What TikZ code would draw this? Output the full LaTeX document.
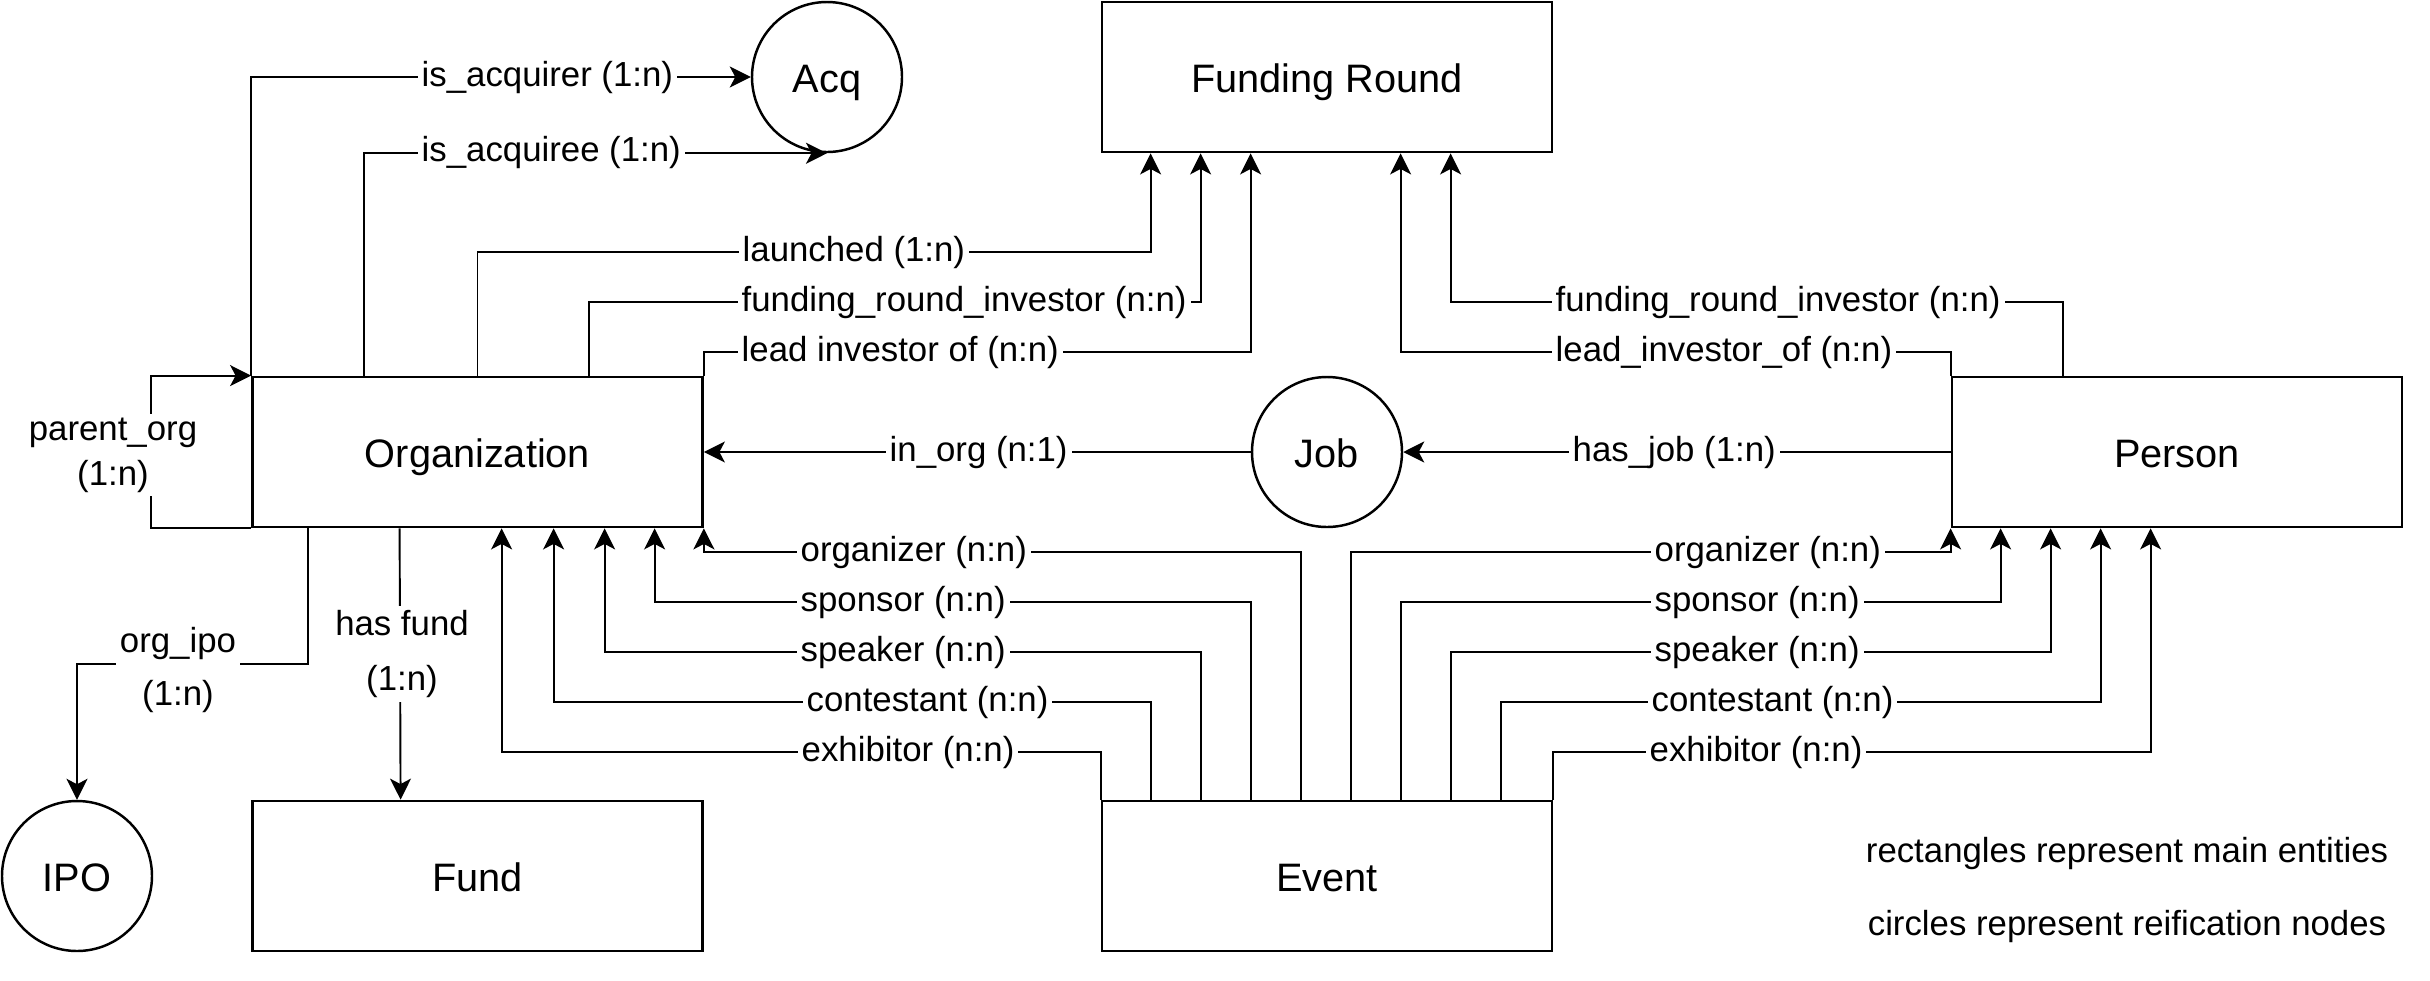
\documentclass[tikz,border=0pt]{standalone}
\usepackage{fontspec}
\setmainfont{Liberation Sans}
\usetikzlibrary{arrows.meta,calc}
\begin{document}
\begin{tikzpicture}[x=0.1mm,y=-0.1mm,
  entity/.style={draw,line width=0.8pt,minimum width=45mm,minimum height=15mm,inner sep=0pt,text height=0.86em,text depth=0em,font=\fontsize{11.3pt}{13.5pt}\selectfont},
  reif/.style={draw,circle,line width=0.7pt,minimum size=15mm,inner sep=0pt,text height=0.86em,text depth=0em,font=\fontsize{11.3pt}{13.5pt}\selectfont},
  conn/.style={line width=0.55pt,-{Stealth[length=2.1mm,width=2.1mm,inset=0.55mm]}},
  lbl/.style={fill=white,inner xsep=0.4mm,inner ysep=0.4mm,anchor=west,font=\fontsize{9.9pt}{12.8pt}\selectfont},
  mlbl/.style={fill=white,inner xsep=0.4mm,inner ysep=0.4mm,align=center,font=\fontsize{9.9pt}{12.8pt}\selectfont},
  note/.style={inner sep=0pt,font=\fontsize{9.9pt}{12.8pt}\selectfont}]
\useasboundingbox (0,0) rectangle (2430,980);

% main entities
\node[entity] (org) at (477.5,452) {Organization};
\node[entity] (fr) at (1327,77) {Funding Round};
\node[entity] (person) at (2177,452) {Person};
\node[entity] (fund) at (477.5,876) {Fund};
\node[entity] (event) at (1327,876) {Event};
% reification nodes
\node[reif] (acq) at (827,77) {Acq};
\node[reif] (job) at (1327,452) {Job};
\node[reif] (ipo) at (77,876) {IPO};

% anchor points
\coordinate (oT2) at ($(org.north west)+(112.5,0)$);
\coordinate (oT3) at (org.north);
\coordinate (oT4) at ($(org.north west)+(337.5,0)$);
\coordinate (f1) at ($(fr.south west)+(50,0)$);
\coordinate (f2) at ($(fr.south west)+(100,0)$);
\coordinate (f3) at ($(fr.south west)+(150,0)$);
\coordinate (f6) at ($(fr.south west)+(300,0)$);
\coordinate (f7) at ($(fr.south west)+(350,0)$);
\coordinate (pT2) at ($(person.north west)+(112.5,0)$);
\coordinate (oL) at ($(org.south west)+(-100,0)$);
\coordinate (oBipo) at ($(org.south west)+(57,0)$);
\coordinate (oBfund) at ($(org.south west)+(148.5,0)$);
\coordinate (fundT) at ($(fund.north west)+(149.5,0)$);
\coordinate (oB1) at ($(org.south west)+(250.5,0)$);
\coordinate (oB2) at ($(org.south west)+(302.5,0)$);
\coordinate (oB3) at ($(org.south west)+(353.5,0)$);
\coordinate (oB4) at ($(org.south west)+(403.5,0)$);
\coordinate (pB2) at ($(person.south west)+(50,0)$);
\coordinate (pB3) at ($(person.south west)+(100,0)$);
\coordinate (pB4) at ($(person.south west)+(150,0)$);
\coordinate (pB5) at ($(person.south west)+(200,0)$);
\coordinate (e0) at (event.north west);
\coordinate (e1) at ($(event.north west)+(50,0)$);
\coordinate (e2) at ($(event.north west)+(100,0)$);
\coordinate (e3) at ($(event.north west)+(150,0)$);
\coordinate (e4) at ($(event.north west)+(200,0)$);
\coordinate (e5) at ($(event.north west)+(250,0)$);
\coordinate (e6) at ($(event.north west)+(300,0)$);
\coordinate (e7) at ($(event.north west)+(350,0)$);
\coordinate (e8) at ($(event.north west)+(400,0)$);
\coordinate (e9) at (event.north east);

% connectors
\draw[conn] (org.north west) |- (acq.west);
\draw[conn] (oT2) |- (acq.south);
\draw[conn] (oT3) -- (oT3 |- 0,252) -| (f1);
\draw[conn] (oT4) -- (oT4 |- 0,302) -| (f2);
\draw[conn] (org.north east) -- (org.north east |- 0,352) -| (f3);
\draw[conn] (person.north west) -- (person.north west |- 0,352) -| (f6);
\draw[conn] (pT2) -- (pT2 |- 0,302) -| (f7);
\draw[conn] (job.west) -- (org.east);
\draw[conn] (person.west) -- (job.east);
\draw[conn] (org.south west) -- (oL) |- (org.north west);
\draw[conn] (oBipo) -- (oBipo |- 0,664) -| (ipo.north);
\draw[conn] (oBfund) -- (fundT);
\draw[conn] (e0) -- (e0 |- 0,752) -| (oB1);
\draw[conn] (e1) -- (e1 |- 0,702) -| (oB2);
\draw[conn] (e2) -- (e2 |- 0,652) -| (oB3);
\draw[conn] (e3) -- (e3 |- 0,602) -| (oB4);
\draw[conn] (e4) -- (e4 |- 0,552) -| (org.south east);
\draw[conn] (e5) -- (e5 |- 0,552) -| (person.south west);
\draw[conn] (e6) -- (e6 |- 0,602) -| (pB2);
\draw[conn] (e7) -- (e7 |- 0,652) -| (pB3);
\draw[conn] (e8) -- (e8 |- 0,702) -| (pB4);
\draw[conn] (e9) -- (e9 |- 0,752) -| (pB5);

% labels
\node[lbl] (lacqr) at (417,77) {is\_acquirer (1:n)};
\node[lbl] (lacqe) at (417,152) {is\_acquiree (1:n)};
\node[lbl] (llaunch) at (738,252) {launched (1:n)};
\node[lbl] (lfrio) at (737,302) {funding\_round\_investor (n:n)};
\node[lbl] (lleado) at (737,352) {lead investor of (n:n)};
\node[lbl] (linorg) at (885,452) {in\_org (n:1)};
\node[lbl] (lhasjob) at (1568,452) {has\_job (1:n)};
\node[lbl] (lfrip) at (1551,302) {funding\_round\_investor (n:n)};
\node[lbl] (lleadp) at (1551,352) {lead\_investor\_of (n:n)};
\node[lbl] (lorgO) at (796,552) {organizer (n:n)};
\node[lbl] (lspoO) at (796,602) {sponsor (n:n)};
\node[lbl] (lspeO) at (796,652) {speaker (n:n)};
\node[lbl] (lconO) at (802,702) {contestant (n:n)};
\node[lbl] (lexhO) at (797,752) {exhibitor (n:n)};
\node[lbl] (lorgP) at (1650,552) {organizer (n:n)};
\node[lbl] (lspoP) at (1650,602) {sponsor (n:n)};
\node[lbl] (lspeP) at (1650,652) {speaker (n:n)};
\node[lbl] (lconP) at (1647,702) {contestant (n:n)};
\node[lbl] (lexhP) at (1645,752) {exhibitor (n:n)};
\node[mlbl] (lparent) at (113,455) {parent\_org\\(1:n)};
\node[mlbl] (lipo) at (178,670) {org\_ipo\\[2.3pt](1:n)};
\node[mlbl] (lfund) at (402,654) {has fund\\[3.1pt](1:n)};

% legend
\node[note] (leg1) at (2127,853) {rectangles represent main entities};
\node[note] (leg2) at (2127,926) {circles represent reification nodes};
\end{tikzpicture}
\end{document}
